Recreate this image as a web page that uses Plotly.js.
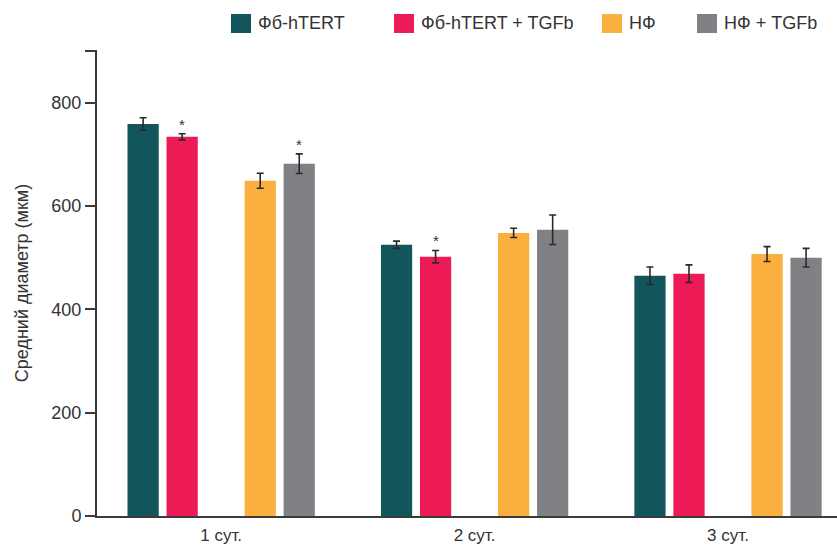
<!DOCTYPE html>
<html>
<head>
<meta charset="utf-8">
<script src="https://cdn.plot.ly/plotly-3.0.1.min.js"></script>
<style>
  html, body { margin: 0; padding: 0; background: #ffffff; }
  #chart { width: 837px; height: 547px; }
</style>
</head>
<body>
<div id="chart"></div>
<script>
// ---- data ----
const categories = ['1 сут.', '2 сут.', '3 сут.'];
const seriesNames = ['Фб-hTERT', 'Фб-hTERT + TGFb', 'НФ', 'НФ + TGFb'];
const fbHtert = [759, 525, 465];
const fbHtertErr = [12, 7, 17];
const fbHtertTgfb = [734, 502, 469];
const fbHtertTgfbErr = [6, 12, 17];
const nf = [649, 548, 507];
const nfErr = [14.5, 9, 14.5];
const nfTgfb = [682, 554, 500];
const nfTgfbErr = [19, 28.5, 18];
// significance markers: [series index, category index]
const significant = [[1, 0], [3, 0], [1, 1]];
const yTickVals = [0, 200, 400, 600, 800, 900];
const yTickText = ['0', '200', '400', '600', '800', ''];

// ---- styling ----
const colors = ['#12555a', '#ec1a55', '#fbaf3f', '#808185'];
const textColor = '#333333';
const axisColor = '#3a3a3a';
const font = 'Liberation Sans, Arial, Helvetica, sans-serif';
const W = 837, H = 547;
const M = {l: 97, r: 0, t: 50, b: 31};
const bargap = 0.23;
const nSlots = 5;            // 4 series + empty slot in the middle
const seriesSlot = [0, 1, 3, 4];
const slotW = (1 - bargap) / nSlots;

const values = [fbHtert, fbHtertTgfb, nf, nfTgfb];
const errs = [fbHtertErr, fbHtertTgfbErr, nfErr, nfTgfbErr];

function barTrace(i) {
  return {
    type: 'bar',
    name: seriesNames[i],
    x: categories,
    y: values[i],
    marker: {color: colors[i], line: {width: 0}},
    error_y: {type: 'data', array: errs[i], visible: true,
              color: '#2a2a2a', thickness: 1.6, width: 3.5},
    showlegend: false,
    hoverinfo: 'x+y'
  };
}
const spacerTrace = {
  type: 'bar', name: '', x: categories, y: categories.map(() => 0),
  marker: {color: 'rgba(0,0,0,0)', line: {width: 0}},
  showlegend: false, hoverinfo: 'skip'
};
const traces = [barTrace(0), barTrace(1), spacerTrace, barTrace(2), barTrace(3)];

// asterisks above significant bars
const annotations = significant.map(([s, c]) => ({
  x: c + (seriesSlot[s] - (nSlots - 1) / 2) * slotW,
  y: values[s][c] + errs[s][c],
  xref: 'x', yref: 'y',
  text: '*', showarrow: false,
  yanchor: 'bottom', yshift: -1,
  font: {family: font, size: 15, color: textColor}
}));

// custom legend (squares + labels) above the plot
const px2x = p => (p - M.l) / (W - M.l - M.r);
const px2y = p => (H - M.b - p) / (H - M.t - M.b);
const legendLeft = [231, 394, 602, 697];
const sq = 20, legTop = 14, legBot = 33;
const shapes = [];
seriesNames.forEach((name, i) => {
  shapes.push({
    type: 'rect', xref: 'paper', yref: 'paper',
    x0: px2x(legendLeft[i]), x1: px2x(legendLeft[i] + sq),
    y0: px2y(legBot), y1: px2y(legTop),
    fillcolor: colors[i], line: {width: 0}
  });
  annotations.push({
    xref: 'paper', yref: 'paper',
    x: px2x(legendLeft[i] + sq + 5), y: px2y((legTop + legBot) / 2),
    xanchor: 'left', yanchor: 'middle',
    text: name, showarrow: false,
    font: {family: font, size: 18, color: textColor}
  });
});

const layout = {
  width: W, height: H,
  margin: M,
  paper_bgcolor: '#ffffff', plot_bgcolor: '#ffffff',
  barmode: 'group', bargap: bargap, bargroupgap: 0.2,
  showlegend: false,
  font: {family: font, color: textColor},
  xaxis: {
    type: 'category',
    range: [-0.49, 2.43],
    showline: true, linecolor: axisColor, linewidth: 2,
    ticks: 'outside', ticklen: 3, tickcolor: 'rgba(0,0,0,0)',
    tickfont: {family: font, size: 17, color: textColor},
    showgrid: false, zeroline: false, fixedrange: true
  },
  yaxis: {
    range: [0, 902],
    tickvals: yTickVals, ticktext: yTickText,
    showline: true, linecolor: axisColor, linewidth: 2,
    ticks: 'outside', ticklen: 10, tickwidth: 2, tickcolor: axisColor,
    tickfont: {family: font, size: 18, color: textColor},
    showgrid: false, zeroline: false, fixedrange: true,
    title: {text: 'Средний диаметр (мкм)', standoff: 18,
            font: {family: font, size: 18, color: textColor}}
  },
  shapes: shapes,
  annotations: annotations
};

Plotly.newPlot('chart', traces, layout, {displayModeBar: false, staticPlot: true});
</script>
</body>
</html>
